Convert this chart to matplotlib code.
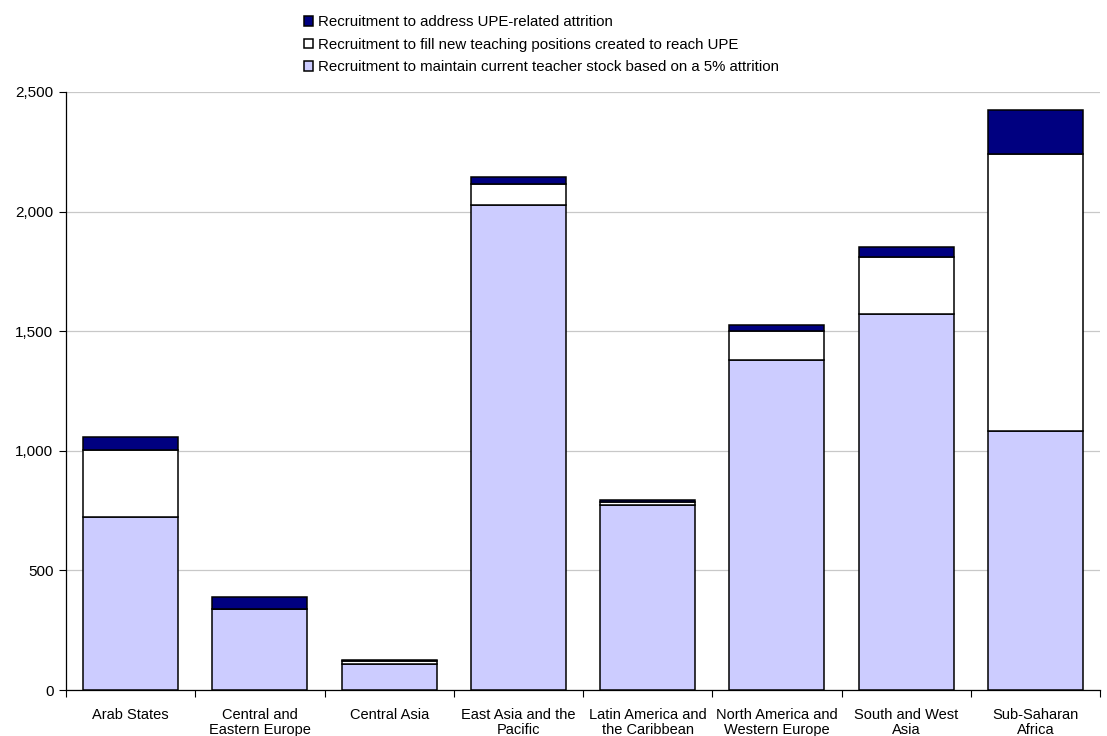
import matplotlib
matplotlib.use("Agg")
import matplotlib.pyplot as plt
from matplotlib.ticker import FuncFormatter, FixedLocator
import numpy as np

plt.rcParams['font.family'] = ['Liberation Sans', 'DejaVu Sans']

regions = [
    "Arab States",
    "Central and\nEastern Europe",
    "Central Asia",
    "East Asia and the\nPacific",
    "Latin America and\nthe Caribbean",
    "North America and\nWestern Europe",
    "South and West\nAsia",
    "Sub-Saharan\nAfrica",
]

# Recruitment needs (thousands of teachers)
maintain_stock = [722, 337, 107, 2028, 774, 1378, 1572, 1084]
new_positions = [281, 2, 13, 88, 14, 123, 237, 1157]
upe_attrition = [56, 50, 4, 28, 6, 25, 43, 182]

series_labels = [
    "Recruitment to address UPE-related attrition",
    "Recruitment to fill new teaching positions created to reach UPE",
    "Recruitment to maintain current teacher stock based on a 5% attrition",
]

fig = plt.figure(figsize=(11.07, 7.36), dpi=100)
ax = fig.add_axes([66 / 1107, 46 / 736, 1034 / 1107, 598 / 736])

x = np.arange(len(regions))
w = 0.735
bottom2 = np.array(maintain_stock)
bottom3 = bottom2 + np.array(new_positions)

b1 = ax.bar(x, maintain_stock, w, color="#ccccff", edgecolor="black", linewidth=1.1, zorder=3)
b2 = ax.bar(x, new_positions, w, bottom=bottom2, color="white", edgecolor="black", linewidth=1.1, zorder=3)
b3 = ax.bar(x, upe_attrition, w, bottom=bottom3, color="#000080", edgecolor="black", linewidth=1.1, zorder=3)

ax.set_xlim(-0.5, len(regions) - 0.5)
ax.set_ylim(0, 2500)
ax.set_yticks([0, 500, 1000, 1500, 2000, 2500])
ax.yaxis.set_major_formatter(FuncFormatter(lambda v, p: f"{int(v):,}"))
ax.yaxis.grid(True, color="#c8c8c8", linewidth=0.9, zorder=0)
ax.set_axisbelow(True)

# category labels centred, tick marks on category boundaries
ax.set_xticks(x)
ax.set_xticklabels(regions, fontsize=10.5, linespacing=1.05)
ax.tick_params(axis="x", which="major", length=0, pad=13)
ax.xaxis.set_minor_locator(FixedLocator(np.arange(-0.5, len(regions), 1.0)))
ax.tick_params(axis="x", which="minor", length=5, width=0.8, direction="out")
ax.tick_params(axis="y", length=5, width=0.8, direction="out", labelsize=11, pad=4)

for s in ["top", "right"]:
    ax.spines[s].set_visible(False)
for s in ["left", "bottom"]:
    ax.spines[s].set_color("black")
    ax.spines[s].set_linewidth(0.9)

leg = fig.legend(
    [b3, b2, b1], series_labels,
    loc="upper left", bbox_to_anchor=(304 / 1107, 1 - 15 / 736),
    frameon=False, fontsize=10.8, handlelength=0.62, handleheight=0.62,
    handletextpad=0.3, labelspacing=0.58, borderaxespad=0, borderpad=0,
)

fig.savefig("out.png", dpi=100)
